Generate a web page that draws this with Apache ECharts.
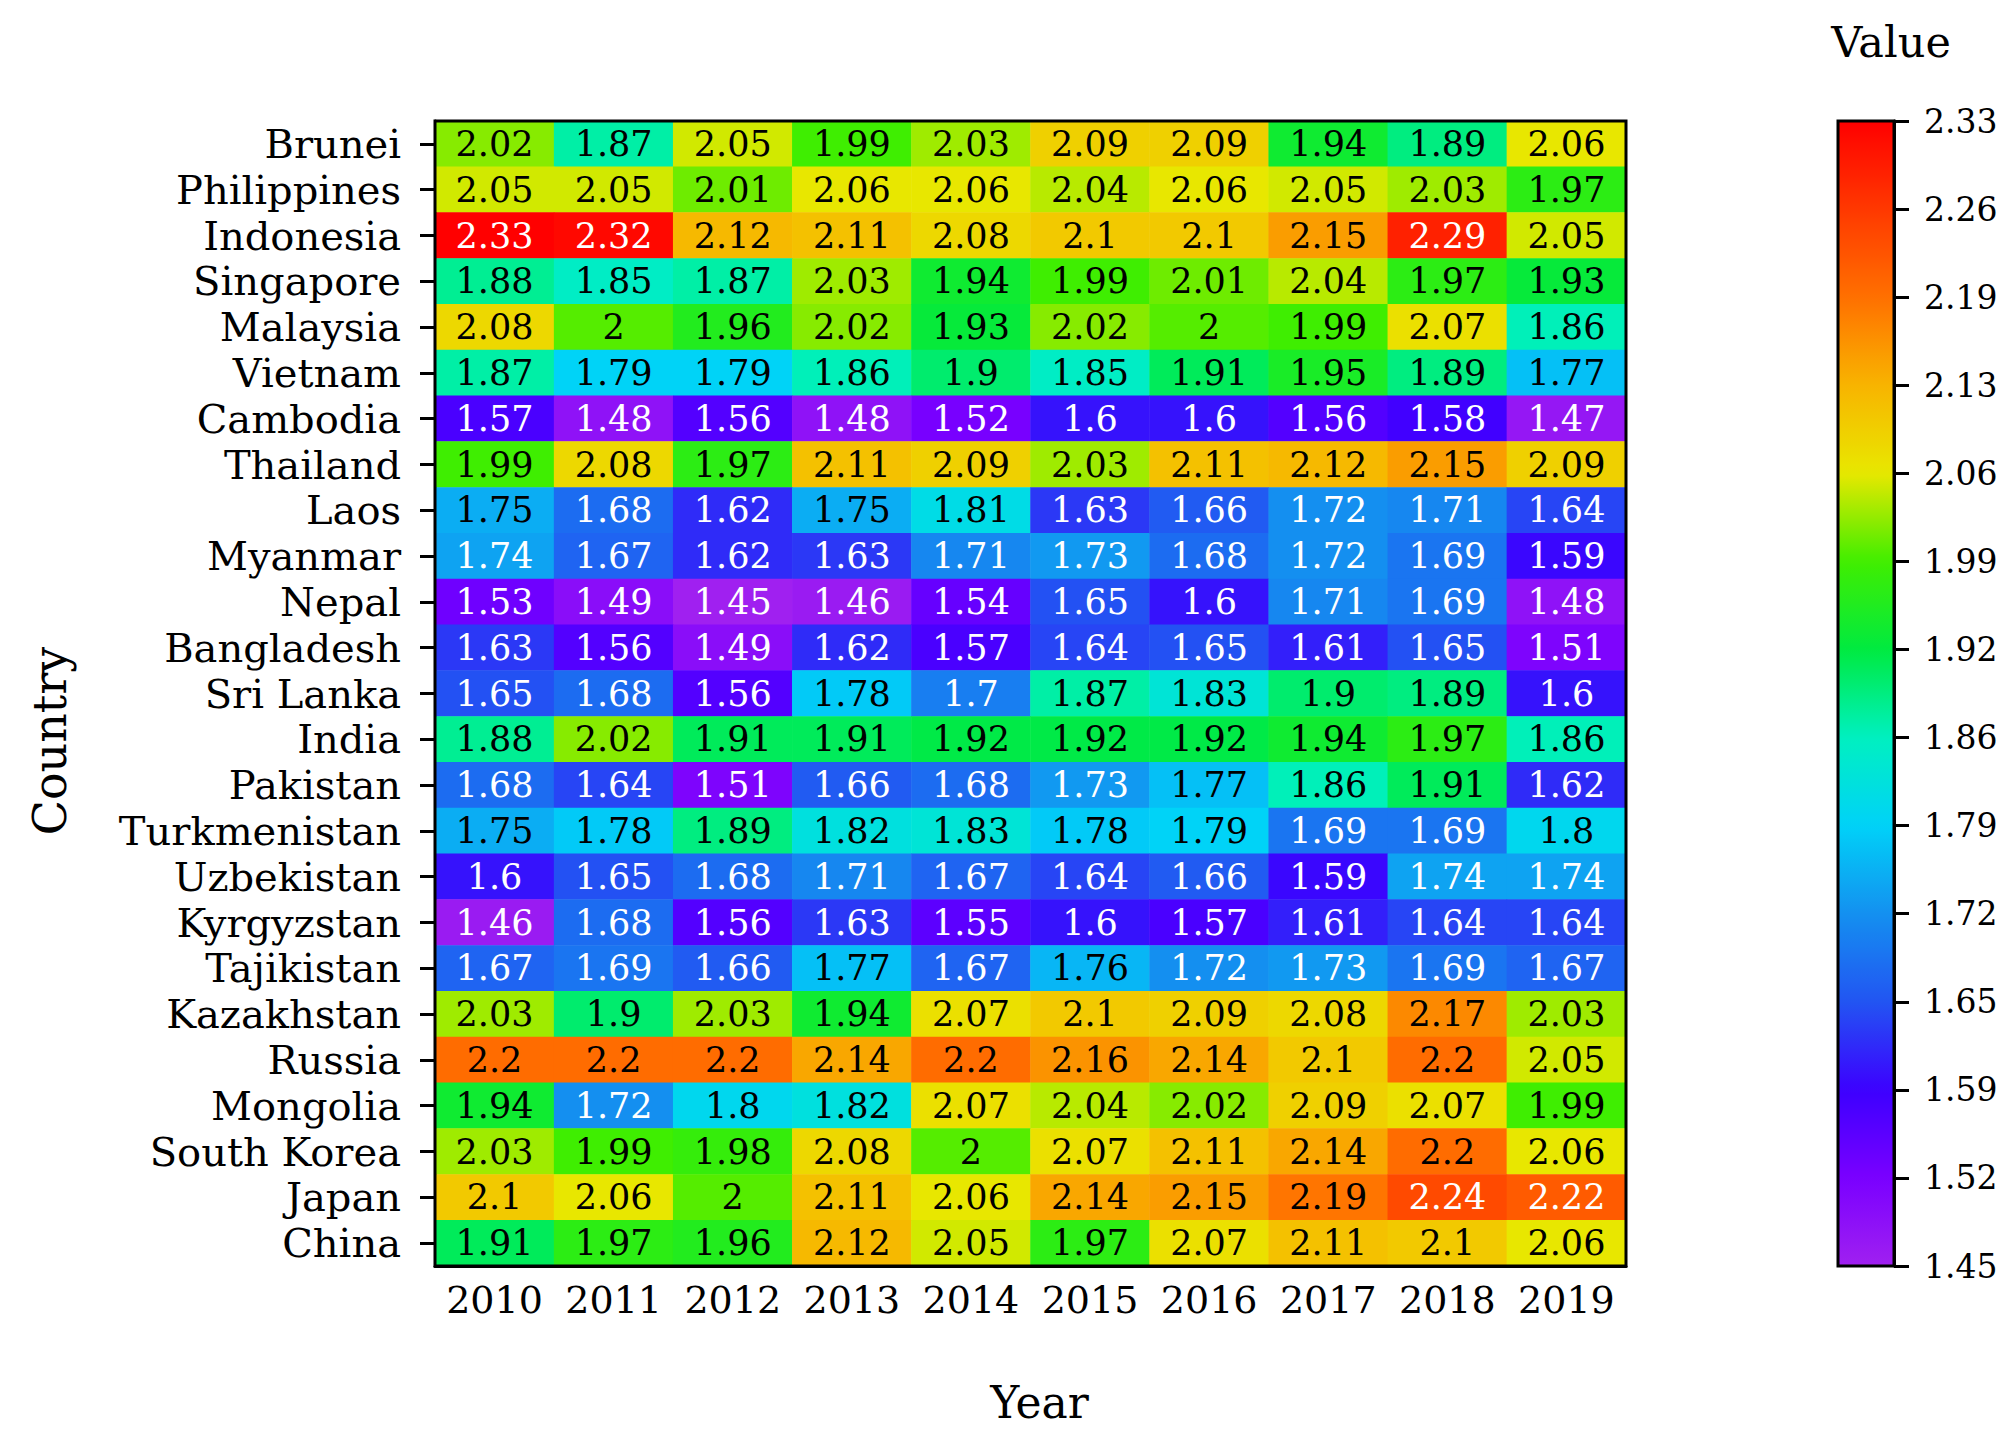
<!DOCTYPE html>
<html>
<head>
<meta charset="utf-8">
<title>Country / Year heatmap</title>
<script src="https://cdn.jsdelivr.net/npm/echarts@6/dist/echarts.min.js"></script>
<style>
  html, body { margin: 0; padding: 0; background: #fff; }
  #chart { width: 2016px; height: 1443px; }
</style>
</head>
<body>
<div id="chart"></div>
<script>
// 数据：年份、国家（自上而下）、每行 2010-2019 的值
const years = ['2010', '2011', '2012', '2013', '2014', '2015', '2016', '2017', '2018', '2019'];

const countries = [
  'Brunei', 'Philippines', 'Indonesia', 'Singapore', 'Malaysia', 'Vietnam', 'Cambodia',
  'Thailand', 'Laos', 'Myanmar', 'Nepal', 'Bangladesh', 'Sri Lanka', 'India', 'Pakistan',
  'Turkmenistan', 'Uzbekistan', 'Kyrgyzstan', 'Tajikistan', 'Kazakhstan', 'Russia',
  'Mongolia', 'South Korea', 'Japan', 'China'
];

const values = [
  [2.02, 1.87, 2.05, 1.99, 2.03, 2.09, 2.09, 1.94, 1.89, 2.06],
  [2.05, 2.05, 2.01, 2.06, 2.06, 2.04, 2.06, 2.05, 2.03, 1.97],
  [2.33, 2.32, 2.12, 2.11, 2.08, 2.1, 2.1, 2.15, 2.29, 2.05],
  [1.88, 1.85, 1.87, 2.03, 1.94, 1.99, 2.01, 2.04, 1.97, 1.93],
  [2.08, 2, 1.96, 2.02, 1.93, 2.02, 2, 1.99, 2.07, 1.86],
  [1.87, 1.79, 1.79, 1.86, 1.9, 1.85, 1.91, 1.95, 1.89, 1.77],
  [1.57, 1.48, 1.56, 1.48, 1.52, 1.6, 1.6, 1.56, 1.58, 1.47],
  [1.99, 2.08, 1.97, 2.11, 2.09, 2.03, 2.11, 2.12, 2.15, 2.09],
  [1.75, 1.68, 1.62, 1.75, 1.81, 1.63, 1.66, 1.72, 1.71, 1.64],
  [1.74, 1.67, 1.62, 1.63, 1.71, 1.73, 1.68, 1.72, 1.69, 1.59],
  [1.53, 1.49, 1.45, 1.46, 1.54, 1.65, 1.6, 1.71, 1.69, 1.48],
  [1.63, 1.56, 1.49, 1.62, 1.57, 1.64, 1.65, 1.61, 1.65, 1.51],
  [1.65, 1.68, 1.56, 1.78, 1.7, 1.87, 1.83, 1.9, 1.89, 1.6],
  [1.88, 2.02, 1.91, 1.91, 1.92, 1.92, 1.92, 1.94, 1.97, 1.86],
  [1.68, 1.64, 1.51, 1.66, 1.68, 1.73, 1.77, 1.86, 1.91, 1.62],
  [1.75, 1.78, 1.89, 1.82, 1.83, 1.78, 1.79, 1.69, 1.69, 1.8],
  [1.6, 1.65, 1.68, 1.71, 1.67, 1.64, 1.66, 1.59, 1.74, 1.74],
  [1.46, 1.68, 1.56, 1.63, 1.55, 1.6, 1.57, 1.61, 1.64, 1.64],
  [1.67, 1.69, 1.66, 1.77, 1.67, 1.76, 1.72, 1.73, 1.69, 1.67],
  [2.03, 1.9, 2.03, 1.94, 2.07, 2.1, 2.09, 2.08, 2.17, 2.03],
  [2.2, 2.2, 2.2, 2.14, 2.2, 2.16, 2.14, 2.1, 2.2, 2.05],
  [1.94, 1.72, 1.8, 1.82, 2.07, 2.04, 2.02, 2.09, 2.07, 1.99],
  [2.03, 1.99, 1.98, 2.08, 2, 2.07, 2.11, 2.14, 2.2, 2.06],
  [2.1, 2.06, 2, 2.11, 2.06, 2.14, 2.15, 2.19, 2.24, 2.22],
  [1.91, 1.97, 1.96, 2.12, 2.05, 1.97, 2.07, 2.11, 2.1, 2.06]
];

// 色标刻度（从下到上）
const colorbarTicks = ['1.45', '1.52', '1.59', '1.65', '1.72', '1.79', '1.86',
  '1.92', '1.99', '2.06', '2.13', '2.19', '2.26', '2.33'];
const valueMin = 1.45;
const valueMax = 2.33;

// 彩虹色带，对应每个刻度
const rampColors = ['#A020F0', '#7A00FF', '#3C00FF', '#2255F2', '#1490F0', '#00D2F8', '#00F0C0',
  '#00EA40', '#40EE00', '#E8E800', '#F8B400', '#FF7000', '#FF3800', '#FF0000'];

const FONT = '"DejaVu Serif", "Liberation Serif", serif';

// 深色格子用白字
const labelColor = v => (v < 1.745 || v > 2.21) ? '#fff' : '#000';

const heatData = [];
values.forEach((row, yi) => {
  row.forEach((v, xi) => {
    heatData.push({ value: [xi, yi, v], label: { color: labelColor(v) } });
  });
});

const chart = echarts.init(document.getElementById('chart'), null, { renderer: 'svg' });

const option = {
  backgroundColor: '#fff',
  animation: false,
  title: {
    text: 'Value',
    left: 1891,
    top: 20,
    padding: 0,
    textAlign: 'center',
    textStyle: { fontFamily: FONT, fontSize: 43, fontWeight: 'normal', color: '#000' }
  },
  grid: [
    { left: 435, top: 121, width: 1191, height: 1145, show: true, z: 3,
      backgroundColor: 'transparent', borderColor: '#000', borderWidth: 3 },
    { left: 1838, top: 121, width: 56, height: 1145, show: true, z: 6,
      backgroundColor: 'transparent', borderColor: '#000', borderWidth: 3 }
  ],
  xAxis: [
    {
      type: 'category',
      data: years,
      gridIndex: 0,
      name: 'Year',
      nameLocation: 'middle',
      nameGap: 114,
      nameTextStyle: { fontFamily: FONT, fontSize: 44, color: '#000', padding: [0, 0, 0, 18] },
      axisLine: { show: true, lineStyle: { color: '#000', width: 3 } },
      axisTick: { show: false },
      axisLabel: { fontFamily: FONT, fontSize: 38, color: '#000', margin: 15, interval: 0 },
      splitLine: { show: false }
    },
    { type: 'value', gridIndex: 1, min: 0, max: 1, show: false }
  ],
  yAxis: [
    {
      type: 'category',
      data: countries,
      gridIndex: 0,
      inverse: true,
      name: 'Country',
      nameLocation: 'middle',
      nameRotate: 90,
      nameGap: 362,
      nameTextStyle: { fontFamily: FONT, fontSize: 46, color: '#000', padding: [0, 95, 0, 0] },
      axisLine: { show: true, lineStyle: { color: '#000', width: 3 } },
      axisTick: { show: true, alignWithLabel: true, length: 15, lineStyle: { color: '#000', width: 3 } },
      axisLabel: { fontFamily: FONT, fontSize: 40, color: '#000', margin: 34, interval: 0 },
      splitLine: { show: false }
    },
    {
      type: 'value',
      gridIndex: 1,
      position: 'right',
      z: 6,
      min: 0,
      max: colorbarTicks.length - 1,
      interval: 1,
      axisLine: { show: true, onZero: false, lineStyle: { color: '#000', width: 3 } },
      axisTick: { show: true, inside: false, length: 15, lineStyle: { color: '#000', width: 3 } },
      axisLabel: { fontFamily: FONT, fontSize: 33, color: '#000', margin: 30,
        formatter: v => colorbarTicks[v] },
      splitLine: { show: false }
    }
  ],
  visualMap: {
    type: 'continuous',
    seriesIndex: 0,
    min: valueMin,
    max: valueMax,
    calculable: false,
    hoverLink: false,
    orient: 'vertical',
    left: 1838,
    top: 121,
    itemWidth: 56,
    itemHeight: 1145,
    padding: 0,
    inRange: { color: rampColors }
  },
  series: [
    {
      type: 'heatmap',
      xAxisIndex: 0,
      yAxisIndex: 0,
      data: heatData,
      label: {
        show: true,
        fontFamily: FONT,
        fontSize: 35,
        formatter: p => String(p.value[2])
      },
      emphasis: { disabled: true }
    },
    {
      type: 'scatter',
      xAxisIndex: 1,
      yAxisIndex: 1,
      data: [],
      silent: true
    }
  ]
};

chart.setOption(option);
window.addEventListener('resize', () => chart.resize());
</script>
</body>
</html>
